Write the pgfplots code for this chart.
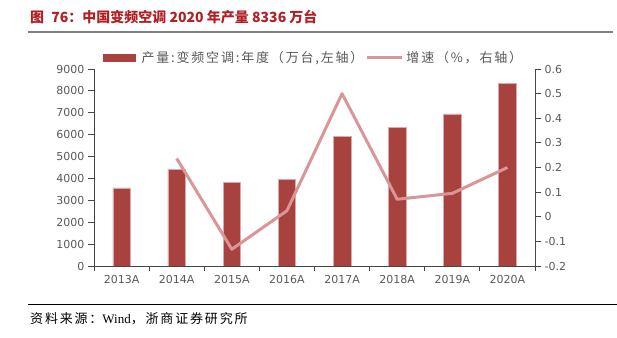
\documentclass[border=0pt]{standalone}
\usepackage{fontspec}
\usepackage{pgfplots}
\pgfplotsset{compat=1.18}
\setmainfont{DejaVu Sans}
\newfontfamily\cjk{Noto Sans CJK SC}
\newfontfamily\cjksp{Noto Sans CJK SC}[LetterSpace=14]
\newfontfamily\tnr{Liberation Serif}
\definecolor{barred}{RGB}{168,66,63}
\definecolor{linepink}{RGB}{217,150,148}
\definecolor{titlered}{RGB}{178,30,35}
\definecolor{axgray}{RGB}{70,70,70}
\definecolor{lblgray}{RGB}{89,89,89}
\begin{document}
\begin{tikzpicture}[x=1pt,y=1pt]
\useasboundingbox (0,0) rectangle (617,337);
\node[anchor=base west, inner sep=0, text=titlered, font=\cjk\bfseries\fontsize{14}{16}\selectfont] at (30,314) {图\hspace{4pt} 76：中国变频空调 2020 年产量 8336 万台};
\draw[line width=2pt, black!50] (28,305) -- (613,305);
\draw[line width=0.8pt, black] (28,33) -- (617,33);
\node[anchor=base west, inner sep=0, font=\cjksp\fontsize{13}{15}\selectfont] at (30,14) {资料来源：{\tnr Wind}，浙商证券研究所};

\begin{axis}[
  at={(94pt,71pt)}, anchor=south west,
  width=441pt, height=197pt, scale only axis,
  xmin=-0.5, xmax=7.5, ymin=0, ymax=9000,
  axis y line*=left, axis x line*=bottom,
  xtick={0,...,7},
  xticklabels={2013A,2014A,2015A,2016A,2017A,2018A,2019A,2020A},
  major x tick style={draw=none},
  minor xtick={-0.5,0.5,...,7.5},
  tick align=outside, major tick length=6pt, minor tick length=5pt,
  ytick={0,1000,...,9000},
  scaled y ticks=false,
  /pgf/number format/.cd, set thousands separator={}, assume math mode=true, /pgfplots/.cd,
  tick label style={font=\fontsize{11}{13}\selectfont, text=lblgray},
  axis line style={axgray, line width=0.8pt},
  tick style={axgray, line width=0.8pt},
  ybar, bar width=17.5pt,
  legend columns=2,
  legend style={at={(0.02,1.056)}, anchor=west, draw=none, fill=none, inner sep=0pt,
    font=\cjksp\fontsize{13}{15}\selectfont, text=lblgray},
]
\addplot[fill=barred, draw=barred!45!white, line width=0.5pt,
  legend image code/.code={\fill[barred] (0pt,-3.5pt) rectangle (32pt,3.5pt);}]
  coordinates {(0,3570) (1,4430) (2,3835) (3,3957) (4,5905) (5,6320) (6,6948) (7,8336)};
\addlegendentry{\hspace{4pt}产量:变频空调:年度（万台,左轴）\hspace{27pt}}
\addlegendimage{legend image code/.code={\draw[linepink,line width=3pt] (0pt,0pt) -- (35pt,0pt);}}
\addlegendentry{\hspace{1pt}增速（\%，右轴）}
\end{axis}

\begin{axis}[
  at={(94pt,71pt)}, anchor=south west,
  width=441pt, height=197pt, scale only axis,
  xmin=-0.5, xmax=7.5, ymin=-0.2, ymax=0.6,
  axis y line*=right, axis x line=none,
  ytick={-0.2,-0.1,0,0.1,0.2,0.3,0.4,0.5,0.6},
  yticklabels={-0.2,-0.1,0,0.1,0.2,0.3,0.4,0.5,0.6},
  tick align=outside, major tick length=6pt,
  tick label style={font=\fontsize{11}{13}\selectfont, text=lblgray},
  axis line style={axgray, line width=0.8pt},
  tick style={axgray, line width=0.8pt},
]
\addplot[linepink, line width=3pt, line join=round, mark=none]
  coordinates {(1,0.237) (2,-0.132) (3,0.0245) (4,0.50) (5,0.071) (6,0.095) (7,0.20)};
\end{axis}
\end{tikzpicture}
\end{document}
